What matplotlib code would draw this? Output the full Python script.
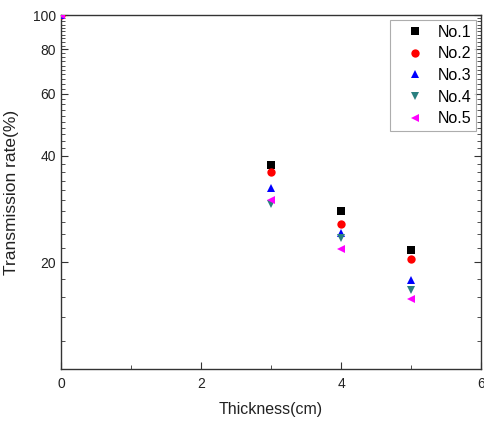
import matplotlib
matplotlib.use("Agg")
import matplotlib.pyplot as plt
from matplotlib.ticker import FixedLocator, NullFormatter, FixedFormatter

plt.rcParams['font.family'] = ['Liberation Sans', 'DejaVu Sans']

thickness = [0, 3, 4, 5]
no1 = [100, 37.6, 28.0, 21.7]
no2 = [100, 36.1, 25.6, 20.4]
no3 = [100, 32.5, 24.2, 17.8]
no4 = [100, 29.2, 23.4, 16.7]
no5 = [100, 30.0, 21.8, 15.8]
labels = ['No.1', 'No.2', 'No.3', 'No.4', 'No.5']
yticks = [20, 40, 60, 80, 100]
xticks = [0, 2, 4, 6]

series = [no1, no2, no3, no4, no5]
markers = ['s', 'o', '^', 'v', '<']
colors = ['#000000', '#ff0000', '#0000ff', '#2a8080', '#ff00ff']

fig = plt.figure(figsize=(4.84, 4.23), dpi=100)
ax = fig.add_axes([0.126, 0.1277, 0.868, 0.8368])
for s, m, c, l in zip(series, markers, colors, labels):
    ax.plot(thickness, s, linestyle='none', marker=m, color=c, markersize=6,
            markeredgewidth=0, label=l, clip_on=True, zorder=3)

ax.set_yscale('log')
ax.set_ylim(10, 100)
ax.set_xlim(0, 6)
ax.yaxis.set_major_locator(FixedLocator(yticks))
ax.yaxis.set_major_formatter(FixedFormatter([str(t) for t in yticks]))
minor = [v for v in range(12, 100, 2) if v not in yticks]
ax.yaxis.set_minor_locator(FixedLocator(minor))
ax.yaxis.set_minor_formatter(NullFormatter())
ax.set_xticks(xticks)
ax.set_xticks([1, 3, 5], minor=True)

for sp in ax.spines.values():
    sp.set_color('#333333')
    sp.set_linewidth(1.0)

ax.tick_params(axis='y', which='both', direction='in', right=True, left=True,
               colors='#333333', labelcolor='#222222', labelsize=10)
ax.tick_params(axis='y', which='major', length=5)
ax.tick_params(axis='y', which='minor', length=3)
ax.tick_params(axis='x', which='both', direction='in', top=False,
               colors='#333333', labelcolor='#222222', labelsize=10)
ax.tick_params(axis='x', which='major', length=5, pad=6)
ax.tick_params(axis='x', which='minor', length=3)

ax.set_xlabel('Thickness(cm)', fontsize=11.5, labelpad=8, color='#222222')
ax.set_ylabel('Transmission rate(%)', fontsize=12.5, labelpad=10, color='#222222')

leg = ax.legend(loc='upper right', bbox_to_anchor=(1.0, 1.0), borderaxespad=0.3,
                fontsize=11.5, frameon=True, fancybox=False, edgecolor='#999999',
                handlelength=2.5, handletextpad=0.2, borderpad=0.3,
                labelspacing=0.42, markerscale=1.0)
leg.get_frame().set_linewidth(0.8)

fig.savefig('out.png', dpi=100)
